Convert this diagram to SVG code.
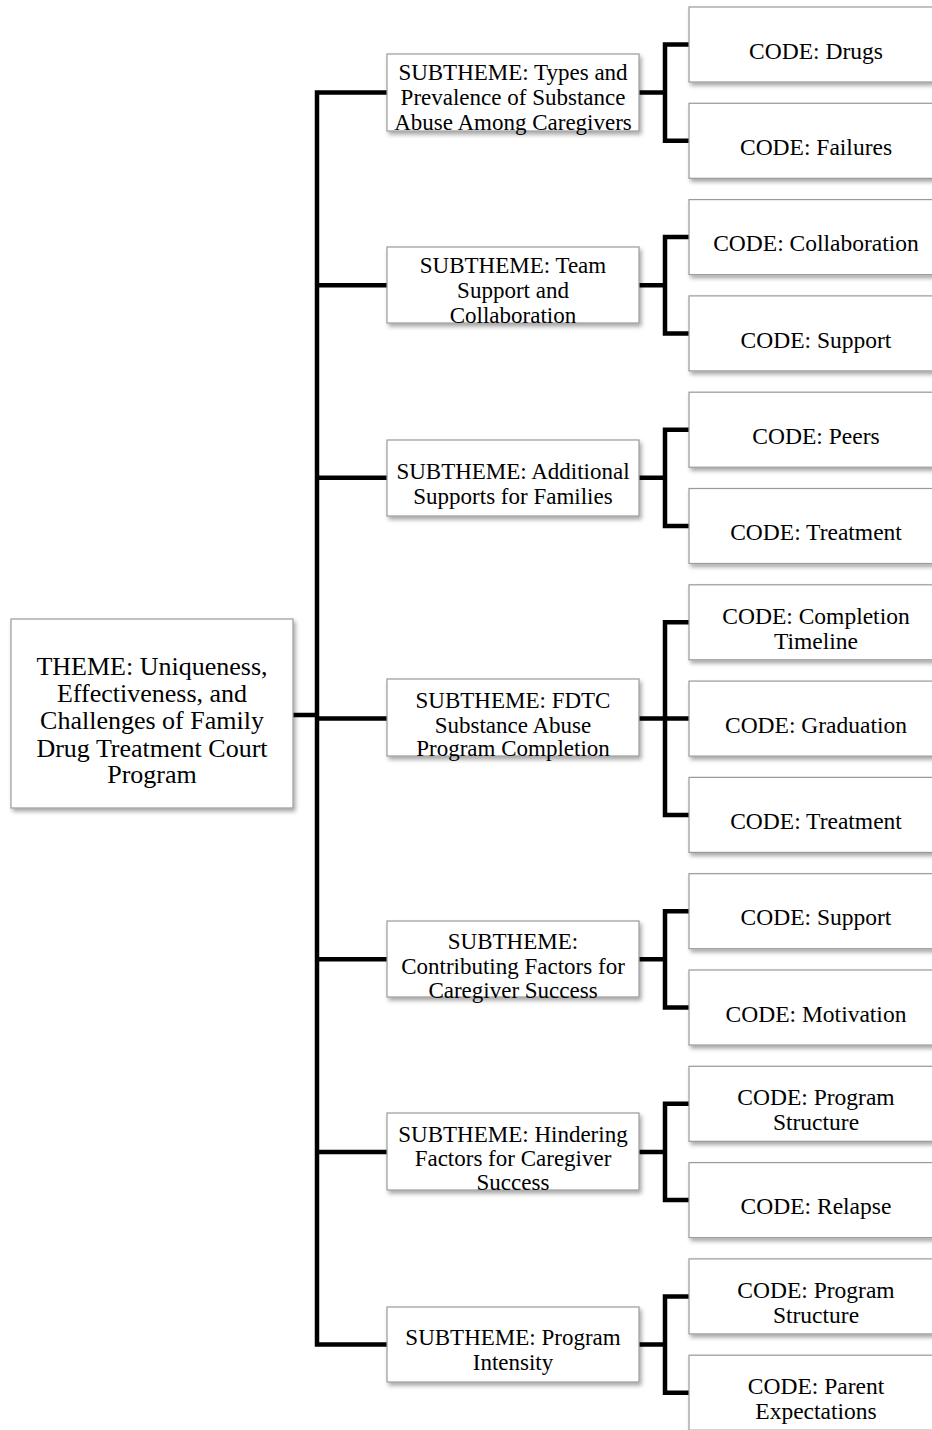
<svg xmlns="http://www.w3.org/2000/svg" width="932" height="1430" viewBox="0 0 932 1430">
<defs>
<filter id="sh" x="-10%" y="-10%" width="130%" height="140%">
<feDropShadow dx="2" dy="3" stdDeviation="2" flood-color="#000" flood-opacity="0.35"/>
</filter>
</defs>
<style>
.box{fill:#fff;stroke:#9a9a9a;stroke-width:1.2;filter:url(#sh)}
.t{font-family:"Liberation Serif","Times New Roman",serif;fill:#000;text-anchor:middle}
.th{font-size:26px}
.st{font-size:23px}
.cd{font-size:23.5px}
.ln{fill:none;stroke:#000;stroke-width:4.5;stroke-linejoin:miter;stroke-linecap:butt}
</style>
<rect width="932" height="1430" fill="#fff"/>
<g id="connectors">
<path class="ln" d="M293 715H317M387 92.6H317V1344.5H387M317 285.2H387M317 477.8H387M317 718.6H387M317 959.3H387M317 1152H387"/>
<path class="ln" d="M639 92.6H665M689 44.5H665V140.8H689"/>
<path class="ln" d="M639 285.2H665M689 237.1H665V333.4H689"/>
<path class="ln" d="M639 477.8H665M689 429.7H665V526H689"/>
<path class="ln" d="M639 718.6H689M689 622.3H665V814.9H689"/>
<path class="ln" d="M639 959.3H665M689 911.2H665V1007.5H689"/>
<path class="ln" d="M639 1152H665M689 1103.8H665V1200.1H689"/>
<path class="ln" d="M639 1344.5H665M689 1296.4H665V1392.7H689"/>
</g>
<g id="theme">
<rect class="box" x="11" y="619" width="282" height="189"/>
<text class="t th" x="152" y="675">THEME: Uniqueness,</text>
<text class="t th" x="152" y="702">Effectiveness, and</text>
<text class="t th" x="152" y="729">Challenges of Family</text>
<text class="t th" x="152" y="757">Drug Treatment Court</text>
<text class="t th" x="152" y="783">Program</text>
</g>
<g id="sub1">
<rect class="box" x="387" y="54" width="252" height="77"/>
<text class="t st" x="513" y="80">SUBTHEME: Types and</text>
<text class="t st" x="513" y="105">Prevalence of Substance</text>
<text class="t st" x="513" y="130">Abuse Among Caregivers</text>
</g>
<g id="sub2">
<rect class="box" x="387" y="247" width="252" height="76"/>
<text class="t st" x="513" y="273">SUBTHEME: Team</text>
<text class="t st" x="513" y="298">Support and</text>
<text class="t st" x="513" y="323">Collaboration</text>
</g>
<g id="sub3">
<rect class="box" x="387" y="440" width="252" height="76"/>
<text class="t st" x="513" y="479">SUBTHEME: Additional</text>
<text class="t st" x="513" y="504">Supports for Families</text>
</g>
<g id="sub4">
<rect class="box" x="387" y="679" width="252" height="77"/>
<text class="t st" x="513" y="708">SUBTHEME: FDTC</text>
<text class="t st" x="513" y="733">Substance Abuse</text>
<text class="t st" x="513" y="756">Program Completion</text>
</g>
<g id="sub5">
<rect class="box" x="387" y="921" width="252" height="76"/>
<text class="t st" x="513" y="949">SUBTHEME:</text>
<text class="t st" x="513" y="974">Contributing Factors for</text>
<text class="t st" x="513" y="998">Caregiver Success</text>
</g>
<g id="sub6">
<rect class="box" x="387" y="1113" width="252" height="77"/>
<text class="t st" x="513" y="1142">SUBTHEME: Hindering</text>
<text class="t st" x="513" y="1166">Factors for Caregiver</text>
<text class="t st" x="513" y="1190">Success</text>
</g>
<g id="sub7">
<rect class="box" x="387" y="1307" width="252" height="75"/>
<text class="t st" x="513" y="1345">SUBTHEME: Program</text>
<text class="t st" x="513" y="1370">Intensity</text>
</g>
<g id="code1"><rect class="box" x="689" y="7" width="260" height="75"/><text class="t cd" x="816" y="59">CODE: Drugs</text></g>
<g id="code2"><rect class="box" x="689" y="103.3" width="260" height="75"/><text class="t cd" x="816" y="155">CODE: Failures</text></g>
<g id="code3"><rect class="box" x="689" y="199.6" width="260" height="75"/><text class="t cd" x="816" y="251">CODE: Collaboration</text></g>
<g id="code4"><rect class="box" x="689" y="295.9" width="260" height="75"/><text class="t cd" x="816" y="348">CODE: Support</text></g>
<g id="code5"><rect class="box" x="689" y="392.2" width="260" height="75"/><text class="t cd" x="816" y="444">CODE: Peers</text></g>
<g id="code6"><rect class="box" x="689" y="488.5" width="260" height="75"/><text class="t cd" x="816" y="540">CODE: Treatment</text></g>
<g id="code7"><rect class="box" x="689" y="584.8" width="260" height="75"/><text class="t cd" x="816" y="624">CODE: Completion</text><text class="t cd" x="816" y="649">Timeline</text></g>
<g id="code8"><rect class="box" x="689" y="681.1" width="260" height="75"/><text class="t cd" x="816" y="733">CODE: Graduation</text></g>
<g id="code9"><rect class="box" x="689" y="777.4" width="260" height="75"/><text class="t cd" x="816" y="829">CODE: Treatment</text></g>
<g id="code10"><rect class="box" x="689" y="873.7" width="260" height="75"/><text class="t cd" x="816" y="925">CODE: Support</text></g>
<g id="code11"><rect class="box" x="689" y="970" width="260" height="75"/><text class="t cd" x="816" y="1022">CODE: Motivation</text></g>
<g id="code12"><rect class="box" x="689" y="1066.3" width="260" height="75"/><text class="t cd" x="816" y="1105">CODE: Program</text><text class="t cd" x="816" y="1130">Structure</text></g>
<g id="code13"><rect class="box" x="689" y="1162.6" width="260" height="75"/><text class="t cd" x="816" y="1214">CODE: Relapse</text></g>
<g id="code14"><rect class="box" x="689" y="1258.9" width="260" height="75"/><text class="t cd" x="816" y="1298">CODE: Program</text><text class="t cd" x="816" y="1323">Structure</text></g>
<g id="code15"><rect class="box" x="689" y="1355.2" width="260" height="75"/><text class="t cd" x="816" y="1394">CODE: Parent</text><text class="t cd" x="816" y="1419">Expectations</text></g>
</svg>
